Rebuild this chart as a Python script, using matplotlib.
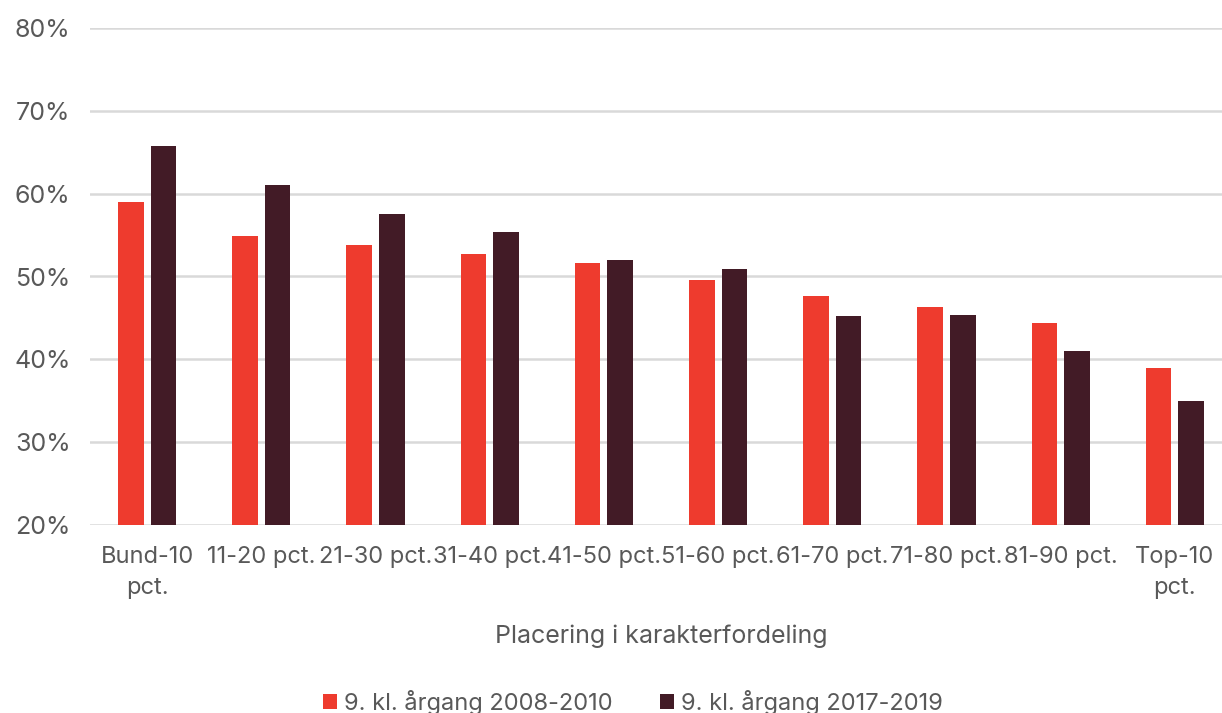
import matplotlib.pyplot as plt
import numpy as np

plt.rcParams['font.family'] = ['Inter', 'DejaVu Sans']

categories = ['Bund-10\npct.', '11-20 pct.', '21-30 pct.', '31-40 pct.', '41-50 pct.',
              '51-60 pct.', '61-70 pct.', '71-80 pct.', '81-90 pct.', 'Top-10\npct.']
aargang_2008 = [59.0, 54.9, 53.8, 52.7, 51.6, 49.6, 47.7, 46.3, 44.4, 38.9]
aargang_2017 = [65.7, 61.1, 57.6, 55.4, 52.0, 50.9, 45.2, 45.4, 41.0, 35.0]
series_labels = ['9. kl. årgang 2008-2010', '9. kl. årgang 2017-2019']

RED = '#EE3B2E'
DARK = '#421B26'
TEXT = '#595959'
GRID = '#D9D9D9'

fig = plt.figure(figsize=(12.22, 7.13), dpi=100)
# axes runs a little past the right edge of the figure
ax = fig.add_axes([90 / 1222, 188 / 713, 1142 / 1222, 497 / 713])

x = np.arange(len(categories))
w = 0.224
off = 0.143
ax.bar(x - off, aargang_2008, w, color=RED, label=series_labels[0], zorder=3)
ax.bar(x + off, aargang_2017, w, color=DARK, label=series_labels[1], zorder=3)

ax.set_xlim(-0.5, len(categories) - 0.5)
ax.set_ylim(20, 80)
ax.set_yticks(range(20, 81, 10))
ax.set_yticklabels([f'{v}%' for v in range(20, 81, 10)])
ax.yaxis.grid(True, color=GRID, linewidth=1.8, zorder=0)
ax.set_axisbelow(True)

for s in ax.spines.values():
    s.set_visible(False)

ax.set_xticks(x)
ax.set_xticklabels(categories, linespacing=1.55)
ax.tick_params(axis='both', length=0, labelsize=17, colors=TEXT)
ax.tick_params(axis='y', pad=14)
ax.tick_params(axis='x', pad=15)
for lbl in ax.get_yticklabels():
    lbl.set_fontsize(18)

ax.set_xlabel('Placering i karakterfordeling', fontsize=18, color=TEXT, labelpad=18)

fig.legend(loc='lower center', bbox_to_anchor=(0.518, -0.032), ncol=2, frameon=False,
           fontsize=17, labelcolor=TEXT, handlelength=0.6, handleheight=0.6,
           handletextpad=0.3, columnspacing=2.0)

fig.savefig('out.png', dpi=100)
